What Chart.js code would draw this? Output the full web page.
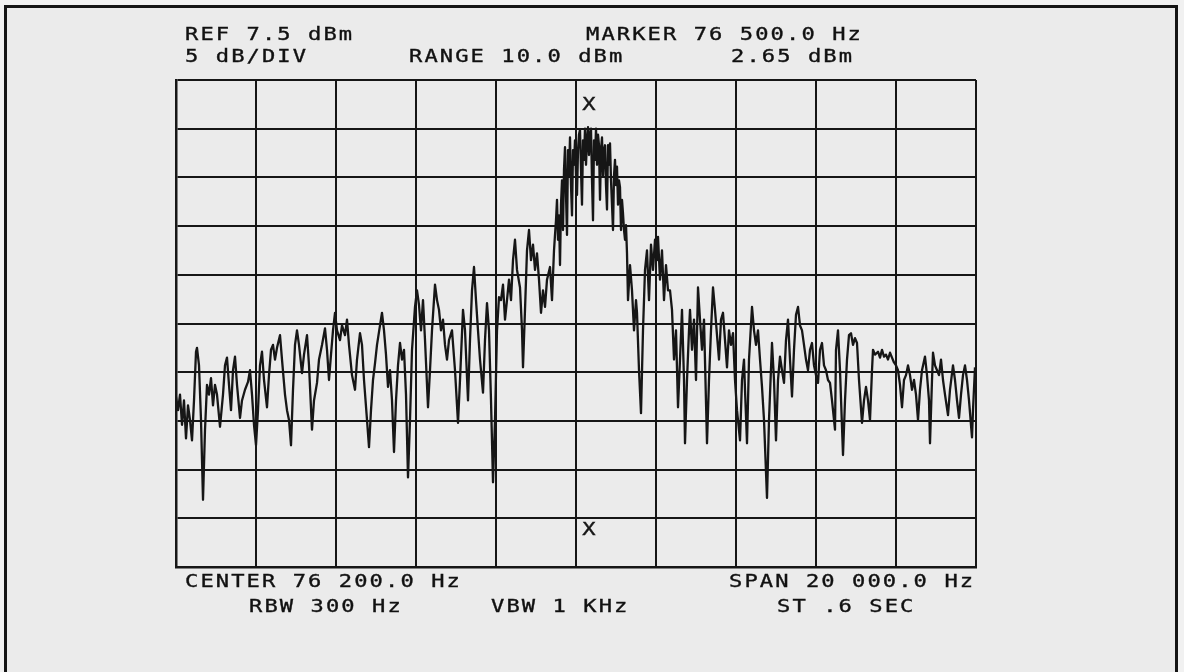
<!DOCTYPE html>
<html>
<head>
<meta charset="utf-8">
<title>Spectrum 76.2 kHz</title>
<script src="https://cdn.jsdelivr.net/npm/chart.js@4.4.1/dist/chart.umd.min.js"></script>
<style>
    html, body {
        margin: 0;
        padding: 0;
        background: #f1f1f1;
    }
    #wrap {
        position: relative;
        width: 1184px;
        height: 672px;
        overflow: hidden;
        background: #f1f1f1;
    }
    #frame {
        position: absolute;
        left: 4px;
        top: 5px;
        width: 1168px;
        height: 700px;
        border: 3px solid #151515;
        border-bottom: none;
        background: #ebebeb;
    }
    #plot {
        position: absolute;
        left: 0;
        top: 0;
    }
    /* plotter lettering: wide glyphs on a fixed pitch */
    .lbl {
        position: absolute;
        font-family: "DejaVu Sans Mono", monospace;
        font-size: 17px;
        line-height: 17px;
        letter-spacing: 1.6px;
        color: #111;
        -webkit-text-stroke: 0.35px #111;
        white-space: pre;
        transform: scaleX(1.3);
        transform-origin: 0 0;
    }
</style>
</head>
<body>
<div id="wrap">
    <div id="frame"></div>
    <canvas id="plot" width="1184" height="672"></canvas>

    <div class="lbl" style="left:185px;top:26px">REF 7.5 dBm</div>
    <div class="lbl" style="left:185px;top:48px">5 dB/DIV</div>
    <div class="lbl" style="left:409px;top:48px">RANGE 10.0 dBm</div>
    <div class="lbl" style="left:586px;top:26px">MARKER 76 500.0 Hz</div>
    <div class="lbl" style="left:731px;top:48px">2.65 dBm</div>

    <div class="lbl" style="left:185px;top:573px">CENTER 76 200.0 Hz</div>
    <div class="lbl" style="left:729px;top:573px">SPAN 20 000.0 Hz</div>
    <div class="lbl" style="left:249px;top:598px">RBW 300 Hz</div>
    <div class="lbl" style="left:491px;top:598px">VBW 1 KHz</div>
    <div class="lbl" style="left:777px;top:598px">ST .6 SEC</div>
</div>

<script>
// graticule: 10 divisions each way, 2 kHz/div and 5 dB/div
const X_TICKS = [66200, 68200, 70200, 72200, 74200, 76200, 78200, 80200, 82200, 84200, 86200];
const Y_TICKS = [-42.5, -37.5, -32.5, -27.5, -22.5, -17.5, -12.5, -7.5, -2.5, 2.5, 7.5];

const MARKER_FREQ = 76500;
const MARKER_LEVEL = 2.65;

// sweep trace, Hz
const FREQ_HZ = [
    66200, 66250, 66300, 66350, 66400, 66450, 66500, 66550, 66600, 66650,
    66700, 66725, 66775, 66825, 66875, 66925, 66975, 67025, 67075, 67125,
    67175, 67225, 67300, 67375, 67425, 67475, 67525, 67575, 67625, 67675,
    67725, 67800, 67850, 67925, 68000, 68050, 68100, 68150, 68200, 68250,
    68300, 68350, 68400, 68475, 68525, 68575, 68625, 68675, 68725, 68800,
    68850, 68925, 68975, 69025, 69075, 69125, 69175, 69225, 69275, 69350,
    69400, 69475, 69525, 69600, 69650, 69725, 69775, 69850, 69925, 69975,
    70025, 70075, 70125, 70175, 70225, 70300, 70350, 70425, 70475, 70525,
    70600, 70675, 70725, 70800, 70850, 70900, 70975, 71025, 71075, 71125,
    71175, 71225, 71300, 71350, 71400, 71450, 71500, 71550, 71600, 71650,
    71700, 71750, 71800, 71850, 71900, 71950, 72000, 72050, 72100, 72175,
    72225, 72275, 72325, 72375, 72425, 72500, 72550, 72600, 72675, 72725,
    72775, 72825, 72875, 72925, 72975, 73025, 73100, 73175, 73250, 73300,
    73375, 73425, 73500, 73550, 73600, 73650, 73700, 73750, 73800, 73875,
    73925, 73975, 74025, 74075, 74125, 74175, 74225, 74275, 74325, 74375,
    74425, 74475, 74525, 74575, 74625, 74675, 74725, 74800, 74850, 74875,
    74925, 74975, 75025, 75075, 75125, 75175, 75225, 75275, 75325, 75375,
    75425, 75475, 75550, 75600,
    75650, 75675, 75700, 75725, 75750, 75775, 75800, 75825, 75850, 75875,
    75900, 75925, 75950, 75975, 76000, 76025, 76050, 76075, 76100, 76125,
    76150, 76175, 76200, 76225, 76250, 76275, 76300, 76325, 76350, 76375,
    76400, 76425, 76450, 76475, 76500, 76525, 76550, 76575, 76600, 76625,
    76650, 76675, 76700, 76725, 76750, 76775, 76800, 76825, 76850, 76875,
    76900, 76925, 76950, 76975, 77000, 77025, 77050, 77075, 77100, 77125,
    77150, 77175, 77200, 77225, 77250, 77275, 77300, 77325, 77350, 77375,
    77400, 77425, 77450, 77475, 77500,
    77550, 77600, 77650,
    77700, 77725, 77775, 77825, 77875, 77925, 77975, 78025, 78075, 78125,
    78175, 78225, 78250, 78300, 78350, 78400, 78450, 78500, 78550, 78600,
    78650, 78700, 78750, 78800, 78850, 78900, 78925, 78975, 79025, 79050,
    79100, 79150, 79200, 79250, 79300, 79350, 79400, 79475, 79525, 79575,
    79625, 79675, 79725, 79775, 79825, 79875, 79925, 79975, 80025, 80075,
    80125, 80175, 80225, 80300, 80350, 80400, 80425, 80475, 80525, 80600,
    80650, 80700, 80750, 80800, 80850, 80900, 80975, 81025, 81100, 81150,
    81200, 81250, 81300, 81350, 81400, 81450, 81500, 81550, 81600, 81650,
    81700, 81750, 81800, 81850, 81900, 81950, 82000, 82050, 82100, 82150,
    82200, 82250, 82300, 82350, 82400, 82450, 82500, 82550, 82600, 82675,
    82700, 82750, 82800, 82875, 82925, 82975, 83025, 83075, 83125, 83175,
    83225, 83275, 83350, 83400, 83450, 83500, 83550, 83600, 83625, 83675,
    83750, 83800, 83850, 83900, 83950, 84000, 84050, 84100, 84150, 84200,
    84250, 84300, 84350, 84400, 84450, 84500, 84550, 84600, 84650, 84700,
    84750, 84800, 84850, 84925, 84975, 85025, 85050, 85100, 85125, 85175,
    85225, 85275, 85325, 85375, 85425, 85500, 85550, 85625, 85675, 85725,
    85775, 85825, 85875, 85925, 85975, 86025, 86100, 86125, 86175
];

// sweep trace, dBm
const LEVEL_DBM = [
    -25.0, -26.4, -24.8, -27.9, -25.4, -29.3, -25.9, -27.4, -29.5, -25.4,
    -20.4, -20.0, -21.8, -27.4, -35.6, -28.4, -23.8, -24.8, -23.1, -25.9,
    -23.8, -24.8, -28.1, -24.8, -21.8, -21.0, -23.8, -26.4, -22.3, -20.9,
    -23.8, -27.2, -25.4, -24.3, -23.5, -22.3, -24.8, -27.9, -30.0, -26.4,
    -21.8, -20.4, -23.3, -26.1, -22.8, -20.2, -19.7, -21.2, -20.0, -18.7,
    -21.2, -24.8, -26.4, -27.4, -30.0, -24.3, -19.7, -18.2, -19.7, -22.6,
    -20.7, -18.7, -21.8, -28.4, -25.4, -23.6, -21.2, -19.7, -18.0, -20.2,
    -23.3, -20.7, -18.2, -16.4, -18.2, -19.2, -17.7, -18.7, -17.1, -19.7,
    -22.8, -24.3, -21.2, -18.5, -19.7, -23.3, -27.4, -30.2, -26.4, -23.3,
    -21.6, -19.7, -17.7, -16.4, -18.2, -20.7, -24.0, -22.3, -25.4, -30.7,
    -25.4, -21.8, -19.5, -21.2, -20.2, -24.8, -33.3, -27.4, -20.2, -15.8,
    -14.1, -15.6, -18.2, -15.1, -19.2, -26.1, -22.3, -18.2, -13.5, -15.1,
    -16.1, -18.2, -17.1, -19.7, -21.2, -19.2, -18.2, -22.3, -27.7, -23.3,
    -16.1, -18.2, -25.4, -19.2, -14.1, -11.7, -15.1, -18.2, -21.2, -24.6,
    -19.2, -15.4, -18.2, -25.4, -33.8, -27.4, -18.2, -14.8, -15.1, -13.5,
    -17.1, -15.1, -13.0, -15.1, -11.0, -8.9, -12.0, -13.8, -18.2, -22.0,
    -16.1, -10.0, -7.9, -11.0, -9.4, -12.0, -10.3, -13.0, -16.4, -14.1,
    -15.8, -13.0, -11.7, -15.1,
    -10.0, -8.4, -6.9, -4.8, -8.9, -6.4, -11.5, -5.3, -2.8, -7.9,
    -1.7, 0.6, -4.3, -8.4, 0.3, -2.3, 1.6, -3.3, -6.4, 0.3,
    -1.2, 1.3, -2.3, -4.3, 0.3, 1.9, 2.4, -1.7, -5.3, 1.3,
    -0.7, 2.5, -1.2, 1.3, 2.65, -0.2, 1.9, 2.5, -2.8, -6.9,
    1.3, -0.7, 2.5, -1.2, 1.9, 0.8, -4.8, 0.3, 1.6, -2.3,
    0.3, 0.8, -3.3, -5.8, 0.8, -1.2, 1.0, -2.8, -5.3, -7.9,
    -2.3, -0.7, -3.3, -1.4, -5.3, -2.8, -3.5, -7.9, -4.8, -6.2,
    -7.9, -8.9, -7.4, -10.3, -15.1,
    -11.5, -14.1, -18.2,
    -15.1, -16.4, -22.3, -26.7, -18.2, -12.0, -10.0, -15.1, -9.4, -12.0,
    -8.9, -11.0, -8.6, -13.0, -10.0, -15.1, -11.5, -14.1, -14.1, -16.1,
    -21.2, -18.2, -26.1, -21.2, -16.1, -23.3, -29.8, -23.3, -18.2, -16.1,
    -20.2, -17.1, -23.3, -13.8, -17.1, -20.2, -17.1, -29.8, -23.3, -18.2,
    -13.8, -16.1, -18.7, -21.2, -17.1, -16.4, -19.2, -22.0, -18.2, -19.7,
    -18.5, -23.3, -26.4, -29.5, -23.3, -21.2, -24.3, -29.8, -21.2, -15.8,
    -18.2, -19.7, -18.2, -21.2, -24.0, -27.4, -35.4, -27.4, -19.5, -23.3,
    -29.5, -23.3, -20.9, -22.3, -23.6, -19.2, -17.1, -21.2, -25.0, -20.2,
    -16.6, -15.8, -17.7, -18.2, -19.7, -21.2, -22.3, -20.2, -19.5, -21.8,
    -22.8, -23.6, -20.2, -19.5, -21.8, -22.3, -23.3, -23.6, -25.4, -28.4,
    -20.2, -18.2, -22.3, -31.0, -25.4, -21.2, -18.7, -18.5, -19.7, -19.0,
    -19.5, -23.3, -27.7, -25.4, -24.0, -25.4, -27.4, -22.3, -20.2, -20.7,
    -20.4, -21.0, -20.2, -20.9, -20.7, -21.2, -20.5, -21.0, -21.5, -21.8,
    -22.3, -23.8, -26.1, -23.3, -22.8, -21.8, -22.8, -24.3, -23.3, -24.8,
    -27.4, -24.3, -22.3, -20.9, -22.8, -25.4, -29.8, -23.3, -20.5, -21.8,
    -22.3, -22.8, -21.2, -23.3, -24.8, -26.9, -24.3, -21.8, -23.3, -25.4,
    -27.2, -24.8, -22.8, -21.8, -23.3, -25.4, -29.2, -26.4, -22.0
];

const INK = "#161616";

// "X" marker symbols above the peak and at the foot of the screen
const markerPlugin = {
    id: "markerX",
    afterDraw(chart) {
        const { ctx, chartArea, scales } = chart;
        const mx = scales.x.getPixelForValue(MARKER_FREQ) + 1;
        const my = scales.y.getPixelForValue(MARKER_LEVEL);

        const drawX = (x, y) => {
            ctx.save();
            ctx.translate(x, y);
            ctx.scale(1.3, 1);
            ctx.fillText("X", 0, 0);
            ctx.strokeText("X", 0, 0);
            ctx.restore();
        };

        ctx.save();
        ctx.fillStyle = INK;
        ctx.strokeStyle = INK;
        ctx.lineWidth = 0.4;
        ctx.font = '17px "DejaVu Sans Mono", monospace';
        ctx.textAlign = "center";
        ctx.textBaseline = "middle";
        drawX(mx, my - 22);
        drawX(mx, chartArea.bottom - 36);
        ctx.restore();
    }
};

const tracePoints = FREQ_HZ.map((f, i) => ({ x: f, y: LEVEL_DBM[i] }));

new Chart(document.getElementById("plot"), {
    type: "line",
    data: {
        datasets: [
            {
                data: tracePoints,
                borderColor: INK,
                borderWidth: 2.3,
                borderJoinStyle: "round",
                pointRadius: 0,
                tension: 0,
                fill: false
            }
        ]
    },
    options: {
        responsive: false,
        devicePixelRatio: 1,
        animation: false,
        parsing: false,
        layout: {
            padding: { left: 176, top: 80, right: 208, bottom: 105 }
        },
        plugins: {
            legend: { display: false },
            tooltip: { enabled: false }
        },
        scales: {
            x: {
                type: "linear",
                min: X_TICKS[0],
                max: X_TICKS[X_TICKS.length - 1],
                afterBuildTicks: scale => {
                    scale.ticks = X_TICKS.map(v => ({ value: v }));
                },
                ticks: { display: false },
                grid: { color: INK, lineWidth: 2, drawTicks: false },
                border: { display: true, color: INK, width: 2.5 }
            },
            y: {
                type: "linear",
                min: Y_TICKS[0],
                max: Y_TICKS[Y_TICKS.length - 1],
                afterBuildTicks: scale => {
                    scale.ticks = Y_TICKS.map(v => ({ value: v }));
                },
                ticks: { display: false },
                grid: { color: INK, lineWidth: 2, drawTicks: false },
                border: { display: true, color: INK, width: 2.5 }
            }
        }
    },
    plugins: [markerPlugin]
});
</script>
</body>
</html>
